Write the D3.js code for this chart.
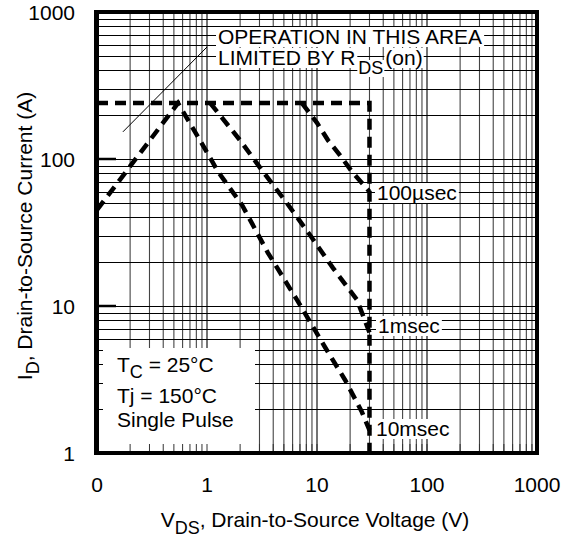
<!DOCTYPE html>
<html>
<head>
<meta charset="utf-8">
<script src="https://cdn.jsdelivr.net/npm/d3@7"></script>
<style>
  body { margin: 0; background: #fff; }
  text { font-family: "Liberation Sans", Arial, Helvetica, sans-serif; fill: #000; }
</style>
</head>
<body>
<svg id="chart" width="572" height="539"></svg>
<script>
// axis ticks
const xTickValues = [0.1, 1, 10, 100, 1000];
const xTickLabels = ['0', '1', '10', '100', '1000'];
const yTickValues = [1, 10, 100, 1000];
const yTickLabels = ['1', '10', '100', '1000'];

// limits
const limitCurrent = 240; // A
const limitVoltage = 30;  // V

// RDS(on) limited rising line
const rdsV = [0.1, 0.545];
const rdsI = [45, 240];

// pulse curves
const t100usV = [7.3, 10, 12.6, 16.2, 20.8, 30];
const t100usI = [240, 176, 134, 106, 82, 60];
const t1msV = [1.07, 2.0, 3.23, 5.34, 8.63, 14.0, 23.1, 30];
const t1msI = [240, 134, 82, 50, 30.4, 18.1, 11.0, 6.6];
const t10msV = [0.545, 0.864, 1.26, 2.08, 3.58, 6.58, 11.8, 18.0, 25.6, 30];
const t10msI = [240, 134, 82, 48.7, 23.0, 11.0, 5.26, 3.14, 1.90, 1.43];

// pointer line for the RDS(on) note
const pointerV = [0.172, 1.0];
const pointerI = [153, 578];

const FONT = 21;
const SUB = 18;
const DASH = '11,7';

const svg = d3.select('#chart');

const x = d3.scaleLog().domain([0.1, 1000]).range([97, 537]);
const y = d3.scaleLog().domain([1, 1000]).range([453, 12]);

// grid
const grid = svg.append('g');
grid.selectAll('line.v')
  .data(x.ticks())
  .enter().append('line')
  .attr('x1', d => x(d)).attr('x2', d => x(d))
  .attr('y1', y(1000)).attr('y2', y(1))
  .style('stroke', d => xTickValues.includes(d) ? '#000' : '#444')
  .style('stroke-width', 1.1);

grid.selectAll('line.h')
  .data(y.ticks())
  .enter().append('line')
  .attr('x1', x(0.1)).attr('x2', x(1000))
  .attr('y1', d => Math.round(y(d)) + 0.5).attr('y2', d => Math.round(y(d)) + 0.5)
  .style('stroke', '#000')
  .style('stroke-width', 1);

// legend box (white, hides grid)
svg.append('rect')
  .attr('x', x(0.1)).attr('y', 348)
  .attr('width', 158).attr('height', y(1) - 348)
  .style('fill', '#fff');

// small ticks along bottom and left
svg.append('g').selectAll('line')
  .data(x.ticks())
  .enter().append('line')
  .attr('x1', d => x(d)).attr('x2', d => x(d))
  .attr('y1', y(1)).attr('y2', y(1) - 9)
  .style('stroke', '#333').style('stroke-width', 1);

svg.append('g').selectAll('line')
  .data(y.ticks())
  .enter().append('line')
  .attr('x1', x(0.1)).attr('x2', x(0.1) + 6)
  .attr('y1', d => Math.round(y(d)) + 0.5).attr('y2', d => Math.round(y(d)) + 0.5)
  .style('stroke', '#000').style('stroke-width', 1);

svg.append('g').selectAll('line')
  .data([10, 100])
  .enter().append('line')
  .attr('x1', x(0.1)).attr('x2', x(0.1) + 19)
  .attr('y1', d => y(d)).attr('y2', d => y(d))
  .style('stroke', '#000').style('stroke-width', 2.5);

// text with white box behind it, returns right edge
function boxedText(px, py, s, size, pad) {
  const g = svg.append('g');
  const t = g.append('text').attr('x', px).attr('y', py)
    .style('font-size', size + 'px').text(s);
  const b = t.node().getBBox();
  g.insert('rect', 'text')
    .attr('x', b.x - pad).attr('y', b.y + 2)
    .attr('width', b.width + 2 * pad).attr('height', b.height - 3)
    .style('fill', '#fff');
  return b.x + b.width;
}

boxedText(218, 44, 'OPERATION IN THIS AREA', FONT, 2);
let ex = boxedText(218, 65, 'LIMITED BY R', FONT, 2);
ex = boxedText(ex + 3, 74, 'DS', SUB, 1);
boxedText(ex + 2, 65, '(on)', FONT, 1);
boxedText(377, 200, '100\u00b5sec', FONT, 2);
boxedText(378, 333, '1msec', FONT, 2);
boxedText(376, 436, '10msec', FONT, 2);

// curves
const line = d3.line().x(d => x(d[0])).y(d => y(d[1]));
const zip = (a, b) => a.map((v, i) => [v, b[i]]);

const curves = svg.append('g')
  .style('fill', 'none').style('stroke', '#000')
  .style('stroke-width', 4.5).style('stroke-dasharray', DASH);

curves.append('path').attr('d', line([[0.1, limitCurrent], [limitVoltage, limitCurrent], [limitVoltage, 1]]));
curves.append('path').attr('d', line(zip(rdsV, rdsI).concat(zip(t10msV, t10msI).slice(1))));
curves.append('path').attr('d', line(zip(t1msV, t1msI)));
curves.append('path').attr('d', line(zip(t100usV, t100usI)));

svg.append('path')
  .attr('d', line(zip(pointerV, pointerI)))
  .style('stroke', '#000').style('stroke-width', 1).style('fill', 'none');

// legend text
const leg = svg.append('g').style('font-size', FONT + 'px');
const l1 = leg.append('text').attr('x', 117).attr('y', 372);
l1.append('tspan').text('T');
l1.append('tspan').attr('dy', 6).style('font-size', SUB + 'px').text('C');
l1.append('tspan').attr('dy', -6).text(' = 25\u00b0C');
leg.append('text').attr('x', 117).attr('y', 403).text('Tj = 150\u00b0C');
leg.append('text').attr('x', 117).attr('y', 427).text('Single Pulse');

// frame
svg.append('rect')
  .attr('x', x(0.1)).attr('y', y(1000))
  .attr('width', x(1000) - x(0.1)).attr('height', y(1) - y(1000))
  .style('fill', 'none').style('stroke', '#000').style('stroke-width', 4);
svg.append('line')
  .attr('x1', x(0.1) - 0.5).attr('x2', x(0.1) - 0.5)
  .attr('y1', y(1000) - 2).attr('y2', y(1) + 2)
  .style('stroke', '#000').style('stroke-width', 5);

// tick labels
svg.append('g').selectAll('text')
  .data(xTickValues)
  .enter().append('text')
  .attr('x', d => x(d)).attr('y', 492)
  .attr('text-anchor', 'middle')
  .style('font-size', FONT + 'px')
  .text((d, i) => xTickLabels[i]);

svg.append('g').selectAll('text')
  .data(yTickValues)
  .enter().append('text')
  .attr('x', 75).attr('y', d => y(d) + 8)
  .attr('text-anchor', 'end')
  .style('font-size', FONT + 'px')
  .text((d, i) => yTickLabels[i]);

// axis titles
const xt = svg.append('text')
  .attr('x', 315).attr('y', 527)
  .attr('text-anchor', 'middle')
  .style('font-size', FONT + 'px');
xt.append('tspan').text('V');
xt.append('tspan').attr('dy', 7).style('font-size', SUB + 'px').text('DS');
xt.append('tspan').attr('dy', -7).text(', Drain-to-Source Voltage (V)');

const yt = svg.append('text')
  .attr('transform', 'translate(32,236) rotate(-90)')
  .attr('text-anchor', 'middle')
  .style('font-size', FONT + 'px');
yt.append('tspan').text('I');
yt.append('tspan').attr('dy', 7).style('font-size', SUB + 'px').text('D');
yt.append('tspan').attr('dy', -7).text(',  Drain-to-Source Current (A)');
</script>
</body>
</html>
